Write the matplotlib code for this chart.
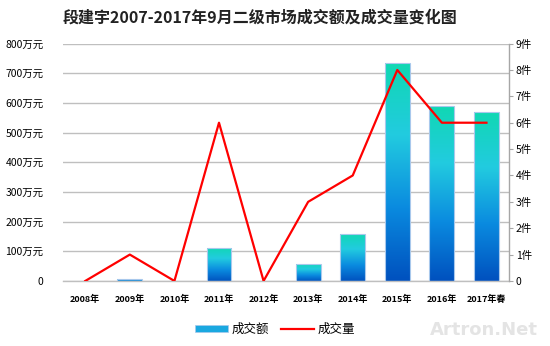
import matplotlib
matplotlib.use("Agg")
import matplotlib.pyplot as plt
import numpy as np
from matplotlib.colors import LinearSegmentedColormap
from matplotlib.patches import Patch
from matplotlib.lines import Line2D

plt.rcParams['font.family'] = ['Noto Sans CJK SC', 'DejaVu Sans']

years = ['2008年', '2009年', '2010年', '2011年', '2012年', '2013年', '2014年', '2015年', '2016年', '2017年春']
amount = [0, 5, 0, 110, 0, 57, 157, 733, 591, 570]      # 万元
volume = [0, 1, 0, 6, 0, 3, 4, 8, 6, 6]                 # 件
left_ticks = [0, 100, 200, 300, 400, 500, 600, 700, 800]
right_ticks = [0, 1, 2, 3, 4, 5, 6, 7, 8, 9]

title = '段建宇2007-2017年9月二级市场成交额及成交量变化图'

fig = plt.figure(figsize=(5.5, 3.46), dpi=100)
ax = fig.add_axes([0.1145, 0.188, 0.8105, 0.686])
ax2 = ax.twinx()

x = np.arange(len(years))
width = 0.56
cmap = LinearSegmentedColormap.from_list('g', ['#0050BE', '#0A8ADF', '#22CBE0', '#10D8B2'])
grad = np.linspace(0, 1, 256).reshape(-1, 1)

ax.set_xlim(-0.5, len(years) - 0.5)
ax.set_ylim(0, 800)
for xi, v in zip(x, amount):
    if v <= 0:
        continue
    patch = ax.bar(xi, v, width=width, facecolor='none', edgecolor='none', zorder=2)[0]
    im = ax.imshow(grad, extent=(xi - width / 2 - 0.02, xi + width / 2 + 0.02, -2, v + 4),
                   origin='lower', cmap=cmap, aspect='auto', zorder=2, interpolation='bilinear')
    im.set_clip_path(patch)
    ax.bar(xi, v, width=width, facecolor='none', edgecolor='#A8C8EC', linewidth=0.8, zorder=3)
ax.set_xlim(-0.5, len(years) - 0.5)
ax.set_ylim(0, 800)

ax.set_yticks(left_ticks)
ax.set_yticklabels(['0' if t == 0 else f'{t}万元' for t in left_ticks], fontsize=7.5)
ax.tick_params(axis='y', length=0, pad=14)
ax.set_xticks(x)
ax.set_xticklabels(years, fontsize=6.5, fontweight='bold')
ax.tick_params(axis='x', length=0, pad=10)
ax.grid(axis='y', color='#BFBFBF', linewidth=1.0, zorder=0)
ax.set_axisbelow(True)
for s in ['top', 'left', 'right']:
    ax.spines[s].set_visible(False)
ax.spines['bottom'].set_color('#BFBFBF')
ax.spines['bottom'].set_linewidth(1.0)

ax2.plot(x, volume, color='#FF0000', linewidth=1.6, zorder=5)
ax2.set_ylim(0, 9)
ax2.set_yticks(right_ticks)
ax2.set_yticklabels(['0' if t == 0 else f'{t}件' for t in right_ticks], fontsize=7.5)
ax2.tick_params(axis='y', length=3, color='#A6A6A6', pad=2)
for s in ['top', 'left', 'bottom']:
    ax2.spines[s].set_visible(False)
ax2.spines['right'].set_color('#A6A6A6')
ax2.spines['right'].set_linewidth(1.0)

fig.text(0.472, 0.95, title, ha='center', va='center', fontsize=11.5, fontweight='bold', color='#222222')

handles = [Patch(facecolor='#1AA8E0', edgecolor='#A8C8EC', linewidth=0.5),
           Line2D([0], [0], color='#FF0000', linewidth=1.6)]
fig.legend(handles, ['成交额', '成交量'], loc='center', bbox_to_anchor=(0.5, 0.048), ncol=2,
           frameon=False, fontsize=9, handlelength=2.6, handleheight=0.45, columnspacing=1.0,
           handletextpad=0.3)

fig.text(0.88, 0.045, 'Artron.Net', ha='center', va='center', fontsize=13, color='#E4E4E4',
         fontweight='bold', family=['DejaVu Sans'])

fig.savefig('out.png', dpi=100)
